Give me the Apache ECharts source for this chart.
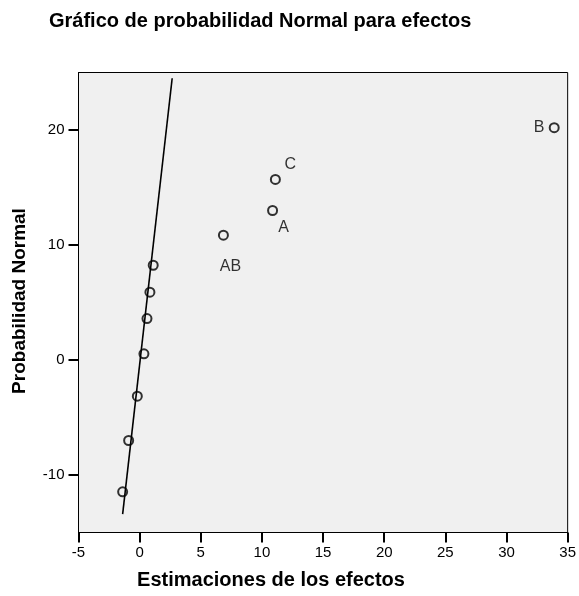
<!DOCTYPE html>
<html>
<head>
<meta charset="utf-8">
<script src="https://cdn.jsdelivr.net/npm/echarts@6/dist/echarts.min.js"></script>
<style>
  html, body { margin: 0; padding: 0; background: #fff; }
  #chart { width: 579px; height: 596px; }
</style>
</head>
<body>
<div id="chart"></div>
<script>
// Effect estimates and their normal scores
const effectEstimates = [-1.39, -0.9, -0.19, 0.35, 0.6, 0.84, 1.11, 6.85, 10.87, 11.1, 33.9];
const normalScores    = [-11.46, -7.0, -3.15, 0.54, 3.6, 5.9, 8.24, 10.85, 13.0, 15.7, 20.2];
const effectNames     = ['', '', '', '', '', '', '', 'AB', 'A', 'C', 'B'];

// Reference line through the small effects
const refLineX = [-1.39, 2.66];
const refLineY = [-13.4, 24.5];

const yTickValues = [-10, 0, 10, 20];

const labelOffsets = {
  'AB': [7, 31],
  'A': [11, 17],
  'C': [15, -15],
  'B': [-15, 0]
};

const FONT = '"Liberation Sans", Arial, sans-serif';

const pointData = effectEstimates.map((x, i) => {
  const name = effectNames[i];
  const item = { value: [x, normalScores[i]], name: name };
  if (name) {
    item.label = {
      show: true,
      position: 'inside',
      offset: labelOffsets[name],
      formatter: '{b}',
      color: '#000',
      fontFamily: FONT,
      fontSize: 16
    };
  }
  return item;
});

const chart = echarts.init(document.getElementById('chart'));
chart.setOption({
  animation: false,
  backgroundColor: '#fff',
  title: {
    text: 'Gráfico de probabilidad Normal para efectos',
    left: 44,
    top: 6,
    textStyle: { fontFamily: FONT, fontSize: 20, fontWeight: 'bold', color: '#000' }
  },
  grid: {
    left: 78.5, right: 9.5, top: 72.5, bottom: 63.5,
    show: true,
    backgroundColor: '#f0f0f0',
    borderColor: '#000',
    borderWidth: 1
  },
  xAxis: {
    type: 'value',
    min: -5, max: 35, interval: 5,
    splitLine: { show: false },
    axisLine: { show: true, onZero: false, lineStyle: { color: '#000', width: 1 } },
    axisTick: { show: true, length: 10, lineStyle: { color: '#000', width: 2 } },
    axisLabel: { color: '#000', fontFamily: FONT, fontSize: 15, margin: 13 }
  },
  yAxis: {
    type: 'value',
    min: -15, max: 25,
    splitLine: { show: false },
    axisLine: { show: true, onZero: false, lineStyle: { color: '#000', width: 1 } },
    axisTick: { show: true, length: 10, customValues: yTickValues, lineStyle: { color: '#000', width: 2 } },
    axisLabel: { color: '#000', fontFamily: FONT, fontSize: 15, margin: 14, customValues: yTickValues }
  },
  graphic: [
    {
      type: 'text',
      x: 20, y: 301, rotation: Math.PI / 2,
      style: {
        text: 'Probabilidad Normal',
        fill: '#000',
        font: 'bold 19px ' + FONT,
        align: 'center', verticalAlign: 'middle'
      }
    },
    {
      type: 'text',
      x: 271, y: 580,
      style: {
        text: 'Estimaciones de los efectos',
        fill: '#000',
        font: 'bold 20px ' + FONT,
        align: 'center', verticalAlign: 'middle'
      }
    }
  ],
  series: [
    {
      type: 'line',
      data: refLineX.map((x, i) => [x, refLineY[i]]),
      showSymbol: false,
      lineStyle: { color: '#000', width: 1.6 },
      silent: true,
      z: 2
    },
    {
      type: 'scatter',
      data: pointData,
      symbol: 'circle',
      symbolSize: 9,
      itemStyle: { color: 'rgba(0,0,0,0)', borderColor: '#000', borderWidth: 2 },
      z: 3
    }
  ]
});
</script>
</body>
</html>
